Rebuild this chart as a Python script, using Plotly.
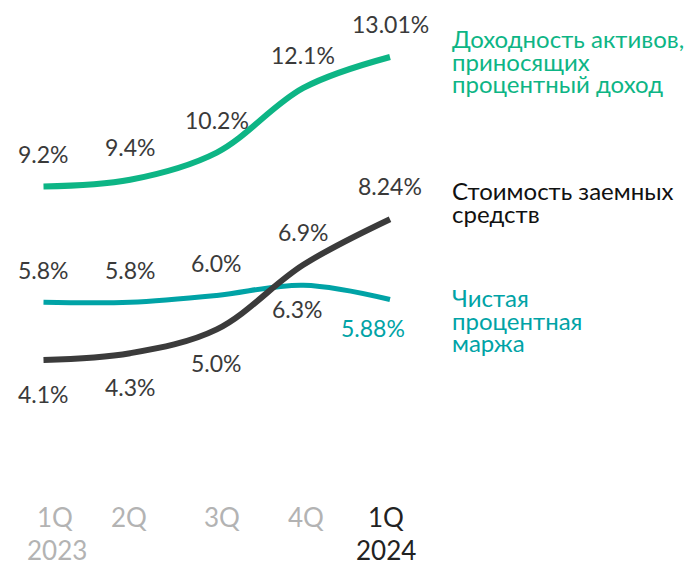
import plotly.graph_objects as go

quarters = [0, 1, 2, 3, 4]
tick_top = ["1Q", "2Q", "3Q", "4Q", "1Q"]
tick_bottom = ["2023", "", "", "", "2024"]
tick_colors = ["#b3b3b3", "#b3b3b3", "#b3b3b3", "#b3b3b3", "#222222"]

yield_assets = [9.2, 9.4, 10.2, 12.1, 13.01]
yield_labels = ["9.2%", "9.4%", "10.2%", "12.1%", "13.01%"]
cost_funds = [4.1, 4.3, 5.0, 6.9, 8.24]
cost_labels = ["4.1%", "4.3%", "5.0%", "6.9%", "8.24%"]
nim = [5.8, 5.8, 6.0, 6.3, 5.88]
nim_labels = ["5.8%", "5.8%", "6.0%", "6.3%", "5.88%"]

GREEN = "#0db585"
TEAL = "#00a3a6"
DARK = "#3b3b3b"
FONT = "Lato"
WEIGHT = 400

W, H = 698.0, 561.0
OFF = 8.0  # default page body margin


def px(xp):
    return (xp - OFF) / W


def py(yp):
    return 1 - (yp - OFF) / H


fig = go.Figure()
fig.add_trace(go.Scatter(x=quarters, y=nim, mode="lines",
                         line=dict(color=TEAL, width=5, shape="spline"), cliponaxis=False))
fig.add_trace(go.Scatter(x=quarters, y=cost_funds, mode="lines",
                         line=dict(color=DARK, width=6, shape="spline"), cliponaxis=False))
fig.add_trace(go.Scatter(x=quarters, y=yield_assets, mode="lines",
                         line=dict(color=GREEN, width=6, shape="spline"), cliponaxis=False))

ann = []
LBL = dict(family=FONT, size=23, color="#3a3a3a", weight=WEIGHT)
for x, y, t in zip(quarters, yield_assets, yield_labels):
    ann.append(dict(x=x, y=y, text=t, showarrow=False, yshift=33, font=LBL))
for i, (x, y, t) in enumerate(zip(quarters, cost_funds, cost_labels)):
    ys = -34 if i < 3 else 33
    ann.append(dict(x=x, y=y, text=t, showarrow=False, yshift=ys, font=LBL))
for i, (x, y, t) in enumerate(zip(quarters, nim, nim_labels)):
    if i < 3:
        ann.append(dict(x=x, y=y, text=t, showarrow=False, yshift=32, font=LBL))
    elif i == 3:
        ann.append(dict(x=x, y=y, text=t, showarrow=False, yshift=-24, xshift=-6, font=LBL))
    else:
        ann.append(dict(x=x, y=y, text=t, showarrow=False, yshift=-29, xshift=-17,
                        font=dict(family=FONT, size=23, color=TEAL, weight=WEIGHT)))

# x tick labels
top_shift = [11, -1, 5, 3, -4]
bot_shift = [13, 0, 0, 0, -4]
for i, (x, a, b, c) in enumerate(zip(quarters, tick_top, tick_bottom, tick_colors)):
    ann.append(dict(x=x, y=py(517), yref="paper", text=a, showarrow=False, xshift=top_shift[i],
                    font=dict(family=FONT, size=26, color=c, weight=WEIGHT), yanchor="middle"))
    if b:
        ann.append(dict(x=x, y=py(550), yref="paper", text=b, showarrow=False, xshift=bot_shift[i],
                        font=dict(family=FONT, size=26, color=c, weight=WEIGHT), yanchor="middle"))

# legend labels (one annotation per line)
legend_items = [
    (["Доходность активов,", "приносящих", "процентный доход"], 38.5, GREEN),
    (["Стоимость заемных", "средств"], 190.5, "#111111"),
    (["Чистая", "процентная", "маржа"], 297.5, TEAL),
]
for lines, y0, col in legend_items:
    for j, line in enumerate(lines):
        ann.append(dict(x=px(450), y=py(y0 + j * 22.5), xref="paper", yref="paper",
                        text=line, showarrow=False, xanchor="left", yanchor="middle",
                        font=dict(family=FONT, size=24, color=col, weight=WEIGHT)))

# axis ranges so that data points land at the reference pixel positions
x_first, x_last = 43.5 - OFF, 390 - OFF
px_per_x = (x_last - x_first) / 4
x0 = -x_first / px_per_x
x1 = 4 + (W - x_last) / px_per_x
y_hi_px, y_lo_px = 57 - OFF, 360 - OFF
px_per_y = (y_lo_px - y_hi_px) / (13.01 - 4.1)
ytop = 13.01 + y_hi_px / px_per_y
ybot = 4.1 - (H - y_lo_px) / px_per_y

fig.update_layout(
    width=int(W), height=int(H),
    margin=dict(l=0, r=0, t=0, b=0),
    paper_bgcolor="white", plot_bgcolor="white",
    showlegend=False,
    xaxis=dict(range=[x0, x1], visible=False, fixedrange=True),
    yaxis=dict(range=[ybot, ytop], visible=False, fixedrange=True),
    annotations=ann,
    font=dict(family=FONT),
)
fig.write_html("out.html")
